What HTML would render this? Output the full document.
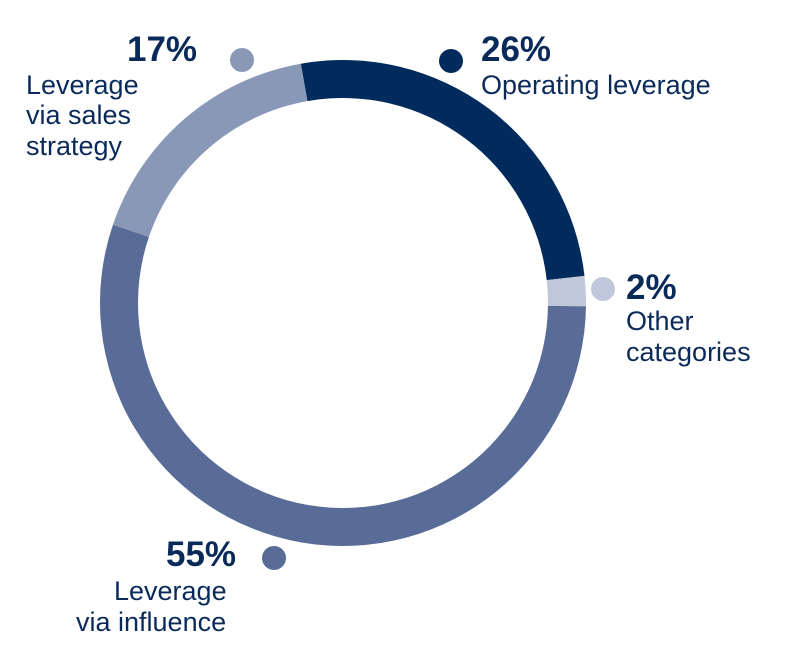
<!DOCTYPE html>
<html><head><meta charset="utf-8"><style>
body{margin:0;background:#fff}
svg{display:block}
.p{font-family:"Liberation Sans",sans-serif;font-weight:bold;font-size:35px;fill:#0a2a5a}
.t{font-family:"Liberation Sans",sans-serif;font-size:27px;fill:#0a2a5a}
</style></head><body>
<svg id="c" width="790" height="657" viewBox="0 0 790 657">
<g id="ring"></g>
<circle cx="451" cy="61" r="12" fill="#002b5c"/>
<text class="p" x="481" y="61">26%</text>
<text class="t" x="481" y="94">Operating leverage</text>
<circle cx="603" cy="289" r="12" fill="#c0c7da"/>
<text class="p" x="626" y="299">2%</text>
<text class="t" x="626" y="330">Other</text>
<text class="t" x="626" y="361">categories</text>
<circle cx="242" cy="60" r="12" fill="#8a98b8"/>
<text class="p" x="127" y="61">17%</text>
<text class="t" x="26" y="94">Leverage</text>
<text class="t" x="26" y="124">via sales</text>
<text class="t" x="26" y="155">strategy</text>
<circle cx="274" cy="558" r="12" fill="#586c97"/>
<text class="p" x="166" y="566">55%</text>
<text class="t" x="114" y="600">Leverage</text>
<text class="t" x="76" y="631">via influence</text>
</svg>
<script>
const categories=["Operating leverage","Other categories","Leverage via influence","Leverage via sales strategy"];
const values=[26,2,55,17];
const colors=["#002b5c","#c0c7da","#586c97","#8a98b8"];
const cx=343,cy=303,R=243,r=205,start=-10;
const g=document.getElementById('ring');
const total=values.reduce((a,b)=>a+b,0);
function pt(a,rad){const t=(a-90)*Math.PI/180;return [cx+rad*Math.cos(t),cy+rad*Math.sin(t)];}
let a=start;
values.forEach((v,i)=>{
 const s=a,e=a+v/total*360;a=e;
 const lg=(e-s)>180?1:0;
 const [x1,y1]=pt(s,R),[x2,y2]=pt(e,R),[x3,y3]=pt(e,r),[x4,y4]=pt(s,r);
 const p=document.createElementNS('http://www.w3.org/2000/svg','path');
 p.setAttribute('d',`M${x1},${y1}A${R},${R} 0 ${lg} 1 ${x2},${y2}L${x3},${y3}A${r},${r} 0 ${lg} 0 ${x4},${y4}Z`);
 p.setAttribute('fill',colors[i]);
 
 
 g.appendChild(p);
});
</script>
</body></html>
